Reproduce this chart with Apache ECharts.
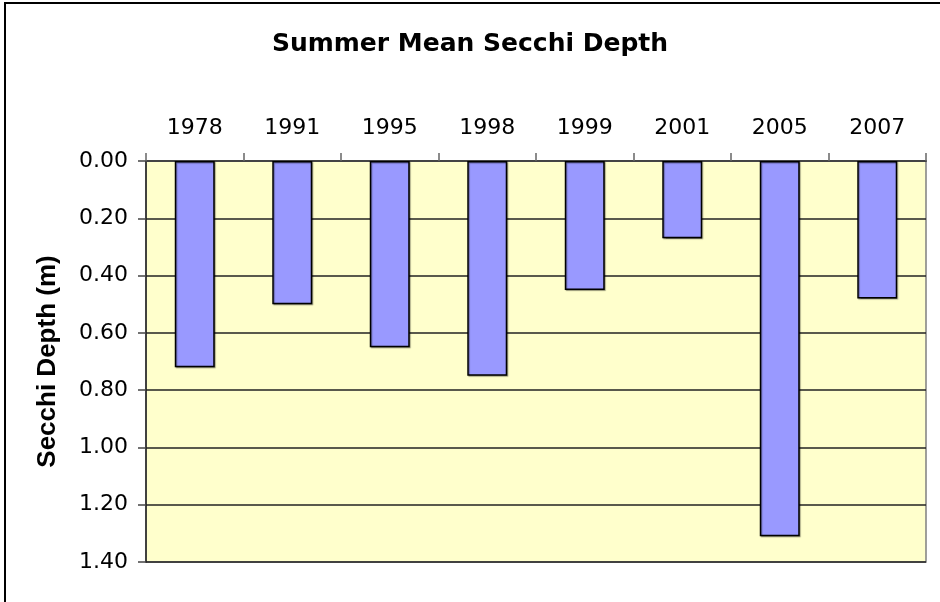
<!DOCTYPE html>
<html>
<head>
<meta charset="utf-8">
<script src="https://cdn.jsdelivr.net/npm/echarts@6/dist/echarts.min.js"></script>
<style>html,body{margin:0;padding:0;background:#fff;}#c{width:940px;height:602px;}</style>
</head>
<body>
<div id="c"></div>
<script>
const categories = ['1978','1991','1995','1998','1999','2001','2005','2007'];
const depths = [0.72, 0.50, 0.65, 0.75, 0.45, 0.27, 1.31, 0.48];
const yTicks = { min: 0, max: 1.4, interval: 0.2 };
const titleText = 'Summer Mean Secchi Depth';
const yName = 'Secchi Depth (m)';

const chart = echarts.init(document.getElementById('c'), null, { renderer: 'canvas' });
const font = '"DejaVu Sans", "Liberation Sans", Arial, sans-serif';
const nameFont = '"Liberation Sans", Arial, sans-serif';
chart.setOption({
  animation: false,
  backgroundColor: '#ffffff',
  title: {
    text: titleText,
    left: 'center',
    top: 27,
    textStyle: { fontFamily: font, fontSize: 25, fontWeight: 'bold', color: '#000' }
  },
  graphic: [{
    type: 'rect',
    shape: { x: 5, y: 3, width: 1000, height: 700 },
    style: { fill: 'none', stroke: '#000', lineWidth: 2 },
    silent: true, z: 100
  }],
  grid: {
    left: 146, top: 161, right: 14, bottom: 40,
    show: true, backgroundColor: '#FFFFCC', borderColor: '#808080', borderWidth: 1.5
  },
  xAxis: {
    type: 'category',
    position: 'top',
    data: categories,
    axisLine: { show: true, lineStyle: { color: '#444', width: 2 } },
    axisTick: { show: true, alignWithLabel: false, length: 8, lineStyle: { color: '#666', width: 1.5 } },
    axisLabel: { fontFamily: font, fontSize: 22, color: '#000', margin: 22 },
    splitLine: { show: false }
  },
  yAxis: {
    type: 'value',
    inverse: true,
    min: yTicks.min, max: yTicks.max, interval: yTicks.interval,
    name: yName,
    nameLocation: 'middle',
    nameGap: 85,
    nameTextStyle: { fontFamily: nameFont, fontSize: 26, fontWeight: 'bold', color: '#000' },
    axisLine: { show: true, lineStyle: { color: '#222', width: 1.5 } },
    axisTick: { show: true, length: 8, lineStyle: { color: '#444', width: 1.5 } },
    axisLabel: { fontFamily: font, fontSize: 22, color: '#000', margin: 18,
      formatter: v => v.toFixed(2) },
    splitLine: { show: true, lineStyle: { color: '#222', width: 1.5 } }
  },
  series: [{
    type: 'bar',
    data: depths,
    barWidth: '41%',
    itemStyle: {
      color: '#9999FF', borderColor: '#000', borderWidth: 1.5,
      shadowColor: 'rgba(0,0,0,0.35)', shadowOffsetX: 1, shadowOffsetY: 1, shadowBlur: 1
    }
  }]
});
</script>
</body>
</html>
